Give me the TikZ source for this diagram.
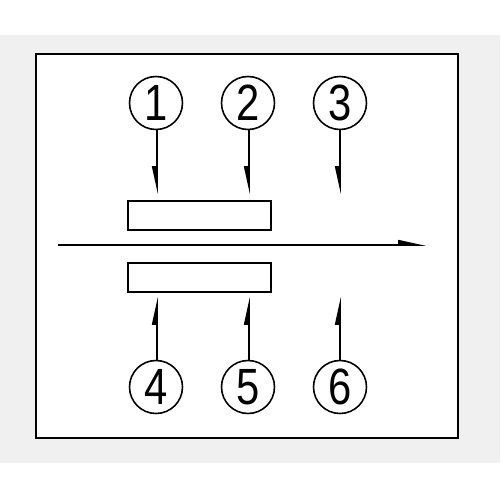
\documentclass[tikz,border=0pt]{standalone}
\usepackage{fontspec}
\setmainfont{Liberation Sans}
\usetikzlibrary{arrows.meta}
\newcommand{\numtext}[1]{\scalebox{0.82}[1]{\fontsize{29}{29}\selectfont #1}}
\begin{document}
\begin{tikzpicture}[x=0.02cm,y=-0.02cm,
  num/.style={circle,draw,line width=0.9pt,minimum size=1.06cm,inner sep=0pt},
  bar/.style={draw,line width=0.9pt,minimum width=2.86cm,minimum height=0.58cm,inner sep=0pt},
  hd/.style={-{Triangle[harpoon,length=0.48cm,width=0.2cm]}},
  hds/.style={-{Triangle[harpoon,swap,length=0.48cm,width=0.2cm]}},
  conn/.style={line width=0.9pt}]
\useasboundingbox (0,0) rectangle (500,500);
\fill[black!6] (0,35) rectangle (500,463);
\draw[fill=white,line width=1.2pt] (36,54) rectangle (458,438);
\node[num] (n1) at (156,103) {\numtext{1}};
\node[num] (n2) at (248,103) {\numtext{2}};
\node[num] (n3) at (340,103) {\numtext{3}};
\node[num] (n4) at (156,387) {\numtext{4}};
\node[num] (n5) at (248,387) {\numtext{5}};
\node[num] (n6) at (340,387) {\numtext{6}};
\node[bar] (b1) at (199.5,215.5) {};
\node[bar] (b2) at (199.5,277.5) {};
\coordinate (t1) at (157,194);
\coordinate (t2) at (249,194);
\coordinate (t3) at (340,194);
\coordinate (u1) at (157,297);
\coordinate (u2) at (249,297);
\coordinate (u3) at (340,297);
\coordinate (l0) at (58,245);
\coordinate (l1) at (426,245);
\draw[conn,hds] (n1.south -| t1) -- (t1);
\draw[conn,hds] (n2.south -| t2) -- (t2);
\draw[conn,hds] (n3) -- (t3);
\draw[conn,hd] (n4.north -| u1) -- (u1);
\draw[conn,hd] (n5.north -| u2) -- (u2);
\draw[conn,hd] (n6) -- (u3);
\draw[conn,hd] (l0) -- (l1);
\end{tikzpicture}
\end{document}
